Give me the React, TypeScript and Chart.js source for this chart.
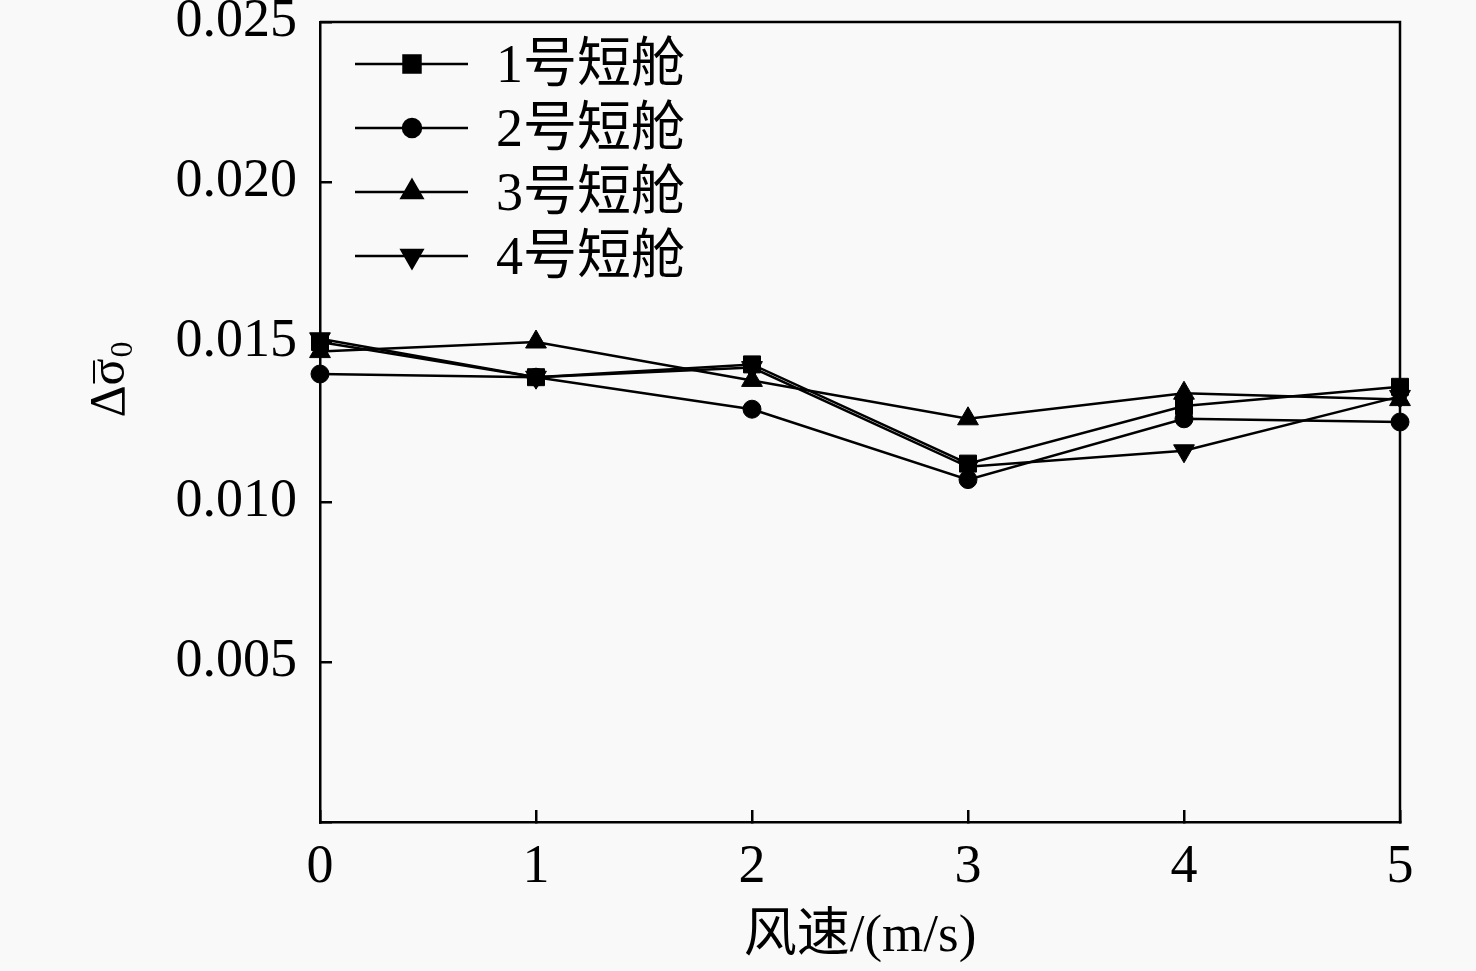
import React, { useEffect, useRef } from 'react';
import { Chart, registerables } from 'chart.js';
import { drawPoint } from 'chart.js/helpers';

Chart.register(...registerables);

// wind speed (m/s) categories
const windSpeeds = ['0', '1', '2', '3', '4', '5'];

const seriesNames = ['1号短舱', '2号短舱', '3号短舱', '4号短舱'];

// Δσ0
const nacelle1 = [0.0150, 0.0139, 0.0143, 0.0112, 0.0130, 0.0136];
const nacelle2 = [0.0140, 0.0139, 0.0129, 0.0107, 0.0126, 0.0125];
const nacelle3 = [0.0147, 0.0150, 0.0138, 0.0126, 0.0134, 0.0132];
const nacelle4 = [0.0151, 0.0139, 0.0142, 0.0111, 0.0116, 0.0133];

const FAMILY = '"Liberation Serif", "Noto Sans CJK SC", serif';

// box around the plot (top and right edges)
const framePlugin = {
    id: 'frame',
    afterDraw(chart: any) {
        const { ctx, chartArea: a } = chart;
        ctx.save();
        ctx.strokeStyle = '#000';
        ctx.lineWidth = 2.5;
        ctx.beginPath();
        ctx.moveTo(a.left, a.top);
        ctx.lineTo(a.right, a.top);
        ctx.lineTo(a.right, a.bottom);
        ctx.stroke();
        ctx.restore();
    },
};

// legend drawn as line-marker-line inside the plot, top left
const insideLegend = {
    id: 'insideLegend',
    afterDraw(chart: any) {
        const { ctx } = chart;
        ctx.save();
        chart.data.datasets.forEach((ds: any, i: number) => {
            const y = 64 + i * 64;
            ctx.strokeStyle = '#000';
            ctx.lineWidth = 2.5;
            ctx.beginPath();
            ctx.moveTo(355, y);
            ctx.lineTo(468, y);
            ctx.stroke();
            ctx.fillStyle = '#000';
            drawPoint(ctx, {
                pointStyle: ds.pointStyle,
                radius: ds.pointRadius,
                rotation: ds.pointRotation || 0,
                borderWidth: 1,
            }, 412, y);
            ctx.fillStyle = '#000';
            ctx.font = `54px ${FAMILY}`;
            ctx.textBaseline = 'middle';
            ctx.textAlign = 'left';
            ctx.fillText(ds.label, 496, y + 4);
        });
        ctx.restore();
    },
};

// rotated y title: Δσ̄ with subscript 0
const yTitle = {
    id: 'yTitle',
    afterDraw(chart: any) {
        const { ctx } = chart;
        ctx.save();
        ctx.translate(124, 382);
        ctx.rotate(-Math.PI / 2);
        ctx.fillStyle = '#000';
        ctx.strokeStyle = '#000';
        ctx.textBaseline = 'alphabetic';
        ctx.textAlign = 'left';
        ctx.font = `50px ${FAMILY}`;
        const main = 'Δσ';
        const w = ctx.measureText(main).width;
        const wd = ctx.measureText('Δ').width;
        const x0 = -w / 2 - 6;
        ctx.fillText(main, x0, 0);
        ctx.lineWidth = 2;
        ctx.beginPath();
        ctx.moveTo(x0 + wd + 2, -30);
        ctx.lineTo(x0 + w - 2, -30);
        ctx.stroke();
        ctx.font = `32px ${FAMILY}`;
        ctx.fillText('0', x0 + w + 1, 8);
        ctx.restore();
    },
};

const App: React.FC = () => {
    const canvasRef = useRef<HTMLCanvasElement | null>(null);

    useEffect(() => {
        if (!canvasRef.current) return;
        const common = {
            borderColor: '#000',
            backgroundColor: '#000',
            pointBackgroundColor: '#000',
            pointBorderColor: '#000',
            borderWidth: 2.5,
            pointBorderWidth: 1,
            tension: 0,
            fill: false,
        };
        const chart = new Chart(canvasRef.current, {
            type: 'line',
            data: {
                labels: windSpeeds,
                datasets: [
                    { ...common, label: seriesNames[0], data: nacelle1, pointStyle: 'rect', pointRadius: 12 },
                    { ...common, label: seriesNames[1], data: nacelle2, pointStyle: 'circle', pointRadius: 9 },
                    { ...common, label: seriesNames[2], data: nacelle3, pointStyle: 'triangle', pointRadius: 12 },
                    { ...common, label: seriesNames[3], data: nacelle4, pointStyle: 'triangle', pointRadius: 12, pointRotation: 180 },
                ] as any,
            },
            options: {
                animation: false,
                responsive: true,
                maintainAspectRatio: false,
                layout: { padding: { left: 0, top: 22, right: 76, bottom: 0 } },
                plugins: {
                    legend: { display: false },
                    tooltip: { enabled: false },
                },
                scales: {
                    x: {
                        type: 'category',
                        offset: false,
                        grid: { drawOnChartArea: false, tickLength: -12, color: '#000', lineWidth: 2.5 },
                        border: { display: true, color: '#000', width: 2.5 },
                        ticks: {
                            color: '#000',
                            padding: 25,
                            maxRotation: 0,
                            font: { family: FAMILY, size: 54 },
                        },
                        title: {
                            display: true,
                            text: '风速/(m/s)',
                            color: '#000',
                            font: { family: FAMILY, size: 53 },
                            padding: { top: 0, bottom: 2 },
                        },
                        afterFit(scale: any) {
                            scale.height = 149;
                            scale.paddingLeft = 0;
                            scale.paddingRight = 0;
                        },
                    },
                    y: {
                        type: 'linear',
                        min: 0,
                        max: 0.025,
                        grid: { drawOnChartArea: false, tickLength: -12, color: '#000', lineWidth: 2.5 },
                        border: { display: true, color: '#000', width: 2.5 },
                        ticks: {
                            stepSize: 0.005,
                            color: '#000',
                            padding: 35,
                            font: { family: FAMILY, size: 54 },
                            callback: (v: any) => (Number(v) === 0 ? '' : Number(v).toFixed(3)),
                        },
                        afterFit(scale: any) {
                            scale.width = 320;
                            scale.paddingTop = 0;
                            scale.paddingBottom = 0;
                        },
                    },
                },
            },
            plugins: [framePlugin, insideLegend, yTitle],
        });
        return () => chart.destroy();
    }, []);

    return (
        <div style={{ position: 'absolute', left: 0, top: 0, width: 1476, height: 971, background: '#f9f9f9' }}>
            <canvas ref={canvasRef} />
        </div>
    );
};

export default App;
